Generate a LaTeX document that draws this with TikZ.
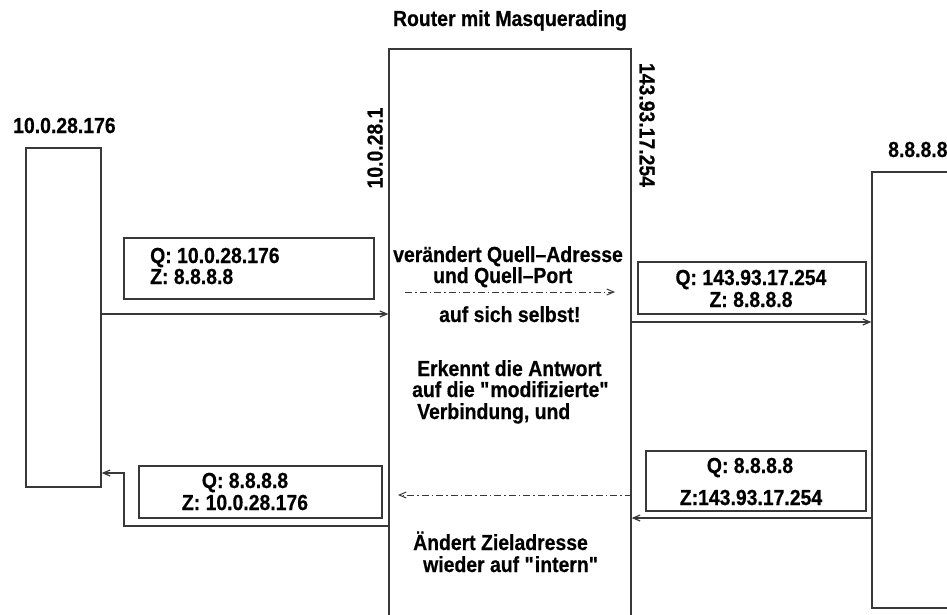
\documentclass[tikz,border=0pt]{standalone}
\usepackage{fontspec}
\setmainfont{Liberation Sans}[FakeStretch=0.89,BoldFeatures={FakeBold=0.5}]
\usetikzlibrary{arrows.meta}
\definecolor{ln}{gray}{0.22}
\tikzset{
  box/.style={draw=ln, line width=1.3pt, inner sep=0pt, fill=none},
  txt/.style={font=\fontsize{21.8}{24}\selectfont\bfseries, inner sep=0pt},
  arr/.style={draw=ln, line width=1.2pt, -{Straight Barb[length=7pt,width=6pt]}},
  dd/.style={draw=ln, line width=1pt, dash pattern=on 7pt off 3pt on 1.5pt off 3pt, -{Straight Barb[length=7pt,width=6pt]}}
}
\newcommand{\qq}{\textquotedbl}
\begin{document}
\begin{tikzpicture}[x=1pt,y=-1pt]
\useasboundingbox (0,0) rectangle (947,614);
% hosts
\node[box, minimum width=75pt, minimum height=339pt] (host) at (63.5,317.5) {};
\node[box, minimum width=242pt, minimum height=591pt] (router) at (510,344.5) {};
\node[box, minimum width=108pt, minimum height=436pt] (server) at (926,390) {};
% packet boxes
\node[box, minimum width=250pt, minimum height=61pt] (p1) at (249,268.5) {};
\node[box, minimum width=228pt, minimum height=52pt] (p2) at (752,288) {};
\node[box, minimum width=220pt, minimum height=60pt] (p3) at (756,481) {};
\node[box, minimum width=243pt, minimum height=52pt] (p4) at (260.5,492) {};
% labels
\node[txt, anchor=base west] (lhost) at (13,133) {10.0.28.176};
\node[txt, anchor=base] (lrouter) at (510,26) {Router mit Masquerading};
\node[txt, anchor=base west] (lserver) at (888,157) {8.8.8.8};
\node[txt, rotate=90] (lin) at (375,148) {10.0.28.1};
\node[txt, rotate=-90] (lout) at (647,125) {143.93.17.254};
% packet texts
\node[txt, anchor=base west] (p1a) at (150,263) {Q: 10.0.28.176};
\node[txt, anchor=base west] (p1b) at (150,284) {Z: 8.8.8.8};
\node[txt, anchor=base] (p2a) at (751,285) {Q: 143.93.17.254};
\node[txt, anchor=base] (p2b) at (751,307) {Z: 8.8.8.8};
\node[txt, anchor=base] (p3a) at (750,473) {Q: 8.8.8.8};
\node[txt, anchor=base] (p3b) at (751,505) {Z:143.93.17.254};
\node[txt, anchor=base] (p4a) at (245,488) {Q: 8.8.8.8};
\node[txt, anchor=base] (p4b) at (245,510) {Z: 10.0.28.176};
% router texts
\node[txt, anchor=base west] (r1) at (393,262) {verändert Quell\textendash Adresse};
\node[txt, anchor=base west] (r2) at (433,283) {und Quell\textendash Port};
\node[txt, anchor=base west] (r3) at (439,322) {auf sich selbst!};
\node[txt, anchor=base west] (r4) at (417,376) {Erkennt die Antwort};
\node[txt, anchor=base west] (r5) at (412,397) {auf die \qq modifizierte\qq};
\node[txt, anchor=base west] (r6) at (417,419) {Verbindung, und};
\node[txt, anchor=base west] (r7) at (413,550) {Ändert Zieladresse};
\node[txt, anchor=base west] (r8) at (423,572) {wieder auf \qq intern\qq};
% connectors
\coordinate (y1) at (0,314);
\coordinate (y2) at (0,322);
\coordinate (y3) at (0,518);
\coordinate (y4) at (0,526);
\coordinate (bend) at (124,473);
\coordinate (d1s) at (405,292);
\coordinate (d1e) at (615,292);
\coordinate (d2e) at (398,495);
\draw[arr] (host.east |- y1) -- (router.west |- y1);
\draw[arr] (router.east |- y2) -- (server.west |- y2);
\draw[arr] (server.west |- y3) -- (router.east |- y3);
\draw[arr] (router.west |- y4) -| (bend) -- (host.east |- bend);
\draw[dd] (d1s) -- (d1e);
\draw[dd] (router.east |- d2e) -- (d2e);
\end{tikzpicture}
\end{document}
